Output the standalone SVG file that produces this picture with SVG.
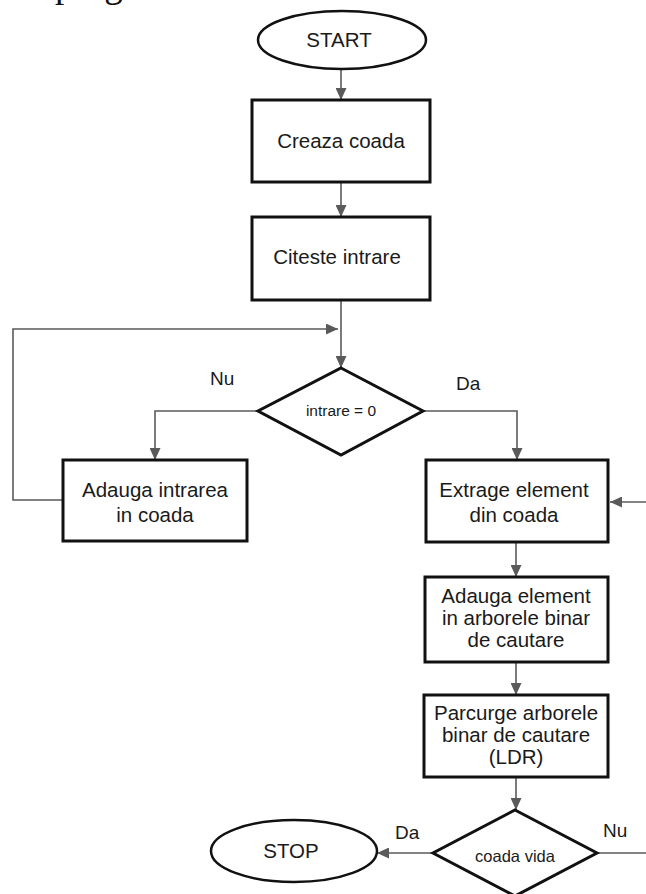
<svg xmlns="http://www.w3.org/2000/svg" width="646" height="894" viewBox="0 0 646 894">
  <style>
    .box { fill: #ffffff; stroke: #111111; stroke-width: 3; }
    .term { fill: #ffffff; stroke: #111111; stroke-width: 2.5; }
    .lbl { font-family: "Liberation Sans", Arial, sans-serif; font-size: 20.5px; fill: #1a1a1a; text-anchor: middle; }
    .small { font-size: 15.5px; }
    .branch { font-family: "Liberation Sans", Arial, sans-serif; font-size: 19px; fill: #1a1a1a; }
    .page { font-family: "Liberation Serif", "Times New Roman", serif; font-size: 37px; fill: #111111; }
    .conn { fill: none; stroke: #5a5a5a; stroke-width: 1.6; }
  </style>
  <defs>
    <marker id="arrow" markerUnits="userSpaceOnUse" markerWidth="12" markerHeight="11" refX="12" refY="5.5" orient="auto">
      <path d="M0,0 L12,5.5 L0,11 Z" fill="#5a5a5a"/>
    </marker>
  </defs>

  <rect width="646" height="894" fill="#ffffff"/>

  <!-- page text running above the chart, cut at the top edge -->
  <text class="page" x="55" y="-3">program</text>

  <!-- connectors -->
  <g id="connectors">
    <path class="conn" d="M341,70 V100" marker-end="url(#arrow)"/>
    <path class="conn" d="M341,182 V217" marker-end="url(#arrow)"/>
    <path class="conn" d="M341,300 V368" marker-end="url(#arrow)"/>
    <path class="conn" d="M63,500 H13 V329 H338" marker-end="url(#arrow)"/>
    <path class="conn" d="M258,411 H155 V460" marker-end="url(#arrow)"/>
    <path class="conn" d="M423,411 H517 V460" marker-end="url(#arrow)"/>
    <path class="conn" d="M516,542 V577" marker-end="url(#arrow)"/>
    <path class="conn" d="M516,662 V695" marker-end="url(#arrow)"/>
    <path class="conn" d="M516,777 V810" marker-end="url(#arrow)"/>
    <path class="conn" d="M433,853 H377" marker-end="url(#arrow)"/>
    <path class="conn" d="M597,853 H646"/>
    <path class="conn" d="M646,502 H610" marker-end="url(#arrow)"/>
    <text class="branch" x="210" y="385">Nu</text>
    <text class="branch" x="456" y="390">Da</text>
    <text class="branch" x="395" y="839">Da</text>
    <text class="branch" x="603" y="837">Nu</text>
  </g>

  <g id="start">
    <ellipse class="term" cx="342" cy="40" rx="84" ry="29"/>
    <text class="lbl" x="339" y="47">START</text>
  </g>

  <g id="creaza-coada">
    <rect class="box" x="252" y="100" width="178" height="82"/>
    <text class="lbl" x="341" y="148">Creaza coada</text>
  </g>

  <g id="citeste-intrare">
    <rect class="box" x="252" y="217" width="178" height="83"/>
    <text class="lbl" x="337" y="264">Citeste intrare</text>
  </g>

  <g id="intrare-zero">
    <polygon class="box" points="341,368 423,411 341,455 258,411"/>
    <text class="lbl small" x="341" y="416">intrare = 0</text>
  </g>

  <g id="adauga-intrarea">
    <rect class="box" x="63" y="460" width="184" height="81"/>
    <text class="lbl" x="155" y="497">Adauga intrarea</text>
    <text class="lbl" x="155" y="522">in coada</text>
  </g>

  <g id="extrage-element">
    <rect class="box" x="426" y="460" width="182" height="82"/>
    <text class="lbl" x="514" y="497">Extrage element</text>
    <text class="lbl" x="514" y="522">din coada</text>
  </g>

  <g id="adauga-element">
    <rect class="box" x="425" y="577" width="183" height="85"/>
    <text class="lbl" x="516" y="603">Adauga element</text>
    <text class="lbl" x="516" y="625">in arborele binar</text>
    <text class="lbl" x="516" y="647">de cautare</text>
  </g>

  <g id="parcurge-arborele">
    <rect class="box" x="424" y="695" width="184" height="82"/>
    <text class="lbl" x="516" y="720">Parcurge arborele</text>
    <text class="lbl" x="516" y="742">binar de cautare</text>
    <text class="lbl" x="516" y="764">(LDR)</text>
  </g>

  <g id="coada-vida">
    <polygon class="box" points="515,810 597,853 515,896 433,853"/>
    <text class="lbl" x="515" y="862" style="font-size:16.5px">coada vida</text>
  </g>

  <g id="stop">
    <ellipse class="term" cx="294" cy="851" rx="83" ry="31"/>
    <text class="lbl" x="291" y="858">STOP</text>
  </g>
</svg>
